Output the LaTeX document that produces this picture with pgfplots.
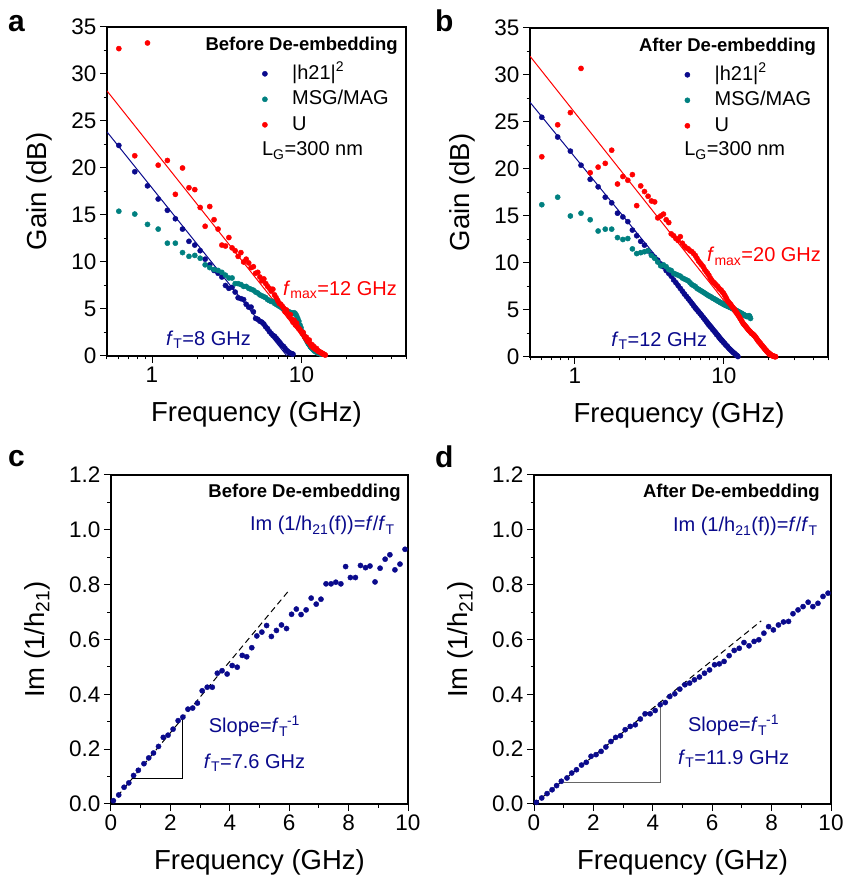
\documentclass[border=0pt]{standalone}
\usepackage{fontspec}
\setmainfont{Liberation Sans}
\usepackage{pgfplots}
\usepackage{pgfplotstable}
\pgfplotsset{compat=1.18}

\definecolor{navyb}{RGB}{10,10,140}
\definecolor{tealc}{RGB}{0,128,128}
\definecolor{redc}{RGB}{255,0,0}

\newcommand\tickfont{\fontsize{22.5}{27}\selectfont}
\newcommand\labfont{\fontsize{27.5}{33}\selectfont}
\newcommand\annfont{\fontsize{20}{24}\selectfont}
\newcommand\ttlfont{\fontsize{18.5}{22}\selectfont\bfseries}
\newcommand\letfont{\fontsize{30}{36}\selectfont\bfseries}

% gain before de-embedding: f (GHz), |h21|^2, MSG/MAG, U (dB)
\pgfplotstableread{
f h21 msg u
0.600 22.4 15.4 32.7
0.767 19.6 15.1 21.3
0.933 18.1 14.0 33.3
1.100 16.7 13.5 20.3
1.267 15.5 12.0 20.8
1.433 14.6 12.0 17.2
1.600 13.5 11.0 20.0
1.767 12.2 10.6 17.9
1.933 11.8 10.7 17.7
2.100 11.2 10.4 15.8
2.267 10.3 9.7 13.8
2.433 9.7 9.4 15.9
2.600 9.1 9.2 14.5
2.767 8.8 9.1 13.5
2.933 8.4 8.9 11.8
3.100 7.5 8.6 11.7
3.267 7.2 8.3 12.6
3.433 7.3 8.3 11.5
3.600 6.8 7.7 11.2
3.767 6.2 7.7 10.6
3.933 6.1 7.6 11.0
4.100 6.0 7.4 10.0
4.267 5.5 7.4 10.3
4.433 5.2 7.2 9.9
4.600 5.2 7.1 9.4
4.767 4.7 7.0 9.5
4.933 4.0 6.8 8.8
5.100 3.9 6.7 8.9
5.267 3.7 6.5 8.4
5.433 3.6 6.4 8.0
5.600 3.4 6.3 8.2
5.767 3.1 6.2 7.7
5.933 2.9 6.0 7.4
6.100 2.6 5.9 7.2
6.267 2.4 5.8 6.9
6.433 2.2 5.8 7.1
6.600 2.1 5.6 6.5
6.767 1.9 5.5 6.2
6.933 1.7 5.4 5.9
7.100 1.5 5.3 5.6
7.267 1.3 5.2 5.5
7.433 1.1 5.1 5.3
7.600 1.0 5.0 5.1
7.767 0.8 4.9 4.7
7.933 0.6 4.8 4.9
8.100 0.5 4.7 4.5
8.267 0.35 4.7 4.2
8.433 0.3 4.6 4.4
8.600 0.25 4.6 3.9
8.767 0.2 4.5 3.6
8.933 nan 4.6 3.8
9.100 nan 4.5 3.3
9.267 nan 4.3 3.5
9.433 nan 4.0 3.1
9.600 nan 3.7 2.9
9.767 nan 3.3 2.8
9.933 nan 3.0 2.6
10.100 nan 2.6 2.4
10.267 nan 2.4 2.5
10.433 nan 2.1 2.1
10.600 nan 1.9 1.9
10.767 nan 1.7 2.0
10.933 nan 1.5 1.6
11.100 nan 1.3 1.5
11.267 nan 1.2 1.7
11.433 nan 1.0 1.3
11.600 nan 0.9 1.1
11.767 nan 0.8 1.2
11.933 nan 0.7 0.9
12.100 nan 0.6 1.0
12.267 nan 0.5 0.8
12.433 nan 0.5 0.7
12.600 nan 0.4 0.8
12.767 nan 0.4 0.6
12.933 nan 0.3 0.5
13.100 nan 0.3 0.5
13.267 nan 0.25 0.4
13.433 nan 0.2 0.4
13.600 nan nan 0.3
13.767 nan nan 0.3
13.933 nan nan 0.2
14.100 nan nan 0.2
14.267 nan nan 0.15
14.433 nan nan 0.1
}\gainbefore

% gain after de-embedding
\pgfplotstableread{
f h21 msg u
0.600 25.5 16.2 21.3
0.767 23.4 17.0 24.7
0.933 21.9 15.0 26.0
1.100 20.4 15.3 30.7
1.267 18.9 14.6 19.6
1.433 18.1 13.4 20.2
1.600 17.0 13.6 20.6
1.767 16.4 13.6 22.0
1.933 15.3 12.7 18.4
2.100 14.9 12.5 19.2
2.267 14.4 12.6 18.8
2.433 13.5 11.5 19.4
2.600 12.9 11.0 16.1
2.767 12.3 11.1 18.2
2.933 11.9 11.2 17.6
3.100 11.3 11.3 17.1
3.267 10.9 10.8 16.6
3.433 10.6 10.5 16.5
3.600 10.3 10.1 14.8
3.767 9.9 9.7 15.0
3.933 9.6 9.8 15.2
4.100 9.2 9.6 14.6
4.267 8.9 9.3 14.3
4.433 8.6 9.2 13.1
4.600 8.2 8.9 12.9
4.767 7.9 8.8 12.6
4.933 7.6 8.7 12.4
5.100 7.3 8.6 12.8
5.267 7.0 8.4 12.1
5.433 6.7 8.3 11.8
5.600 6.45 8.2 11.6
5.767 6.2 8.1 11.5
5.933 5.95 7.9 11.3
6.100 5.7 7.7 11.2
6.267 5.45 7.6 11.0
6.433 5.2 7.5 10.8
6.600 5.0 7.3 10.5
6.767 4.8 7.2 10.2
6.933 4.6 7.1 10.0
7.100 4.4 7.0 9.8
7.267 4.2 6.9 9.6
7.433 4.0 6.8 9.3
7.600 3.8 6.7 9.1
7.767 3.6 6.6 8.9
7.933 3.4 6.5 8.7
8.100 3.25 6.45 8.4
8.267 3.1 6.35 8.2
8.433 2.9 6.25 8.0
8.600 2.75 6.2 7.9
8.767 2.6 6.1 7.75
8.933 2.4 6.05 7.6
9.100 2.3 5.95 7.5
9.267 2.1 5.9 7.3
9.433 1.95 5.8 7.2
9.600 1.8 5.75 7.1
9.767 1.7 5.7 6.9
9.933 1.55 5.6 6.8
10.100 1.45 5.55 6.6
10.267 1.3 5.5 6.4
10.433 1.2 5.45 6.2
10.600 1.1 5.4 5.95
10.767 0.95 5.35 5.85
10.933 0.85 5.3 5.7
11.100 0.75 5.25 5.6
11.267 0.65 5.2 5.45
11.433 0.55 5.15 5.3
11.600 0.45 5.1 5.2
11.767 0.4 5.05 5.05
11.933 0.3 5.0 4.95
12.100 0.2 4.95 4.8
12.267 0.15 4.9 4.65
12.433 0.05 4.85 4.5
12.600 nan 4.8 4.35
12.767 nan 4.75 4.2
12.933 nan 4.7 4.05
13.100 nan 4.65 3.9
13.267 nan 4.6 3.75
13.433 nan 4.55 3.6
13.600 nan 4.5 3.5
13.767 nan 4.45 3.4
13.933 nan 4.4 3.3
14.100 nan 4.35 3.2
14.267 nan 4.3 3.1
14.433 nan 4.3 3.0
14.600 nan 4.35 2.9
14.767 nan 4.4 2.8
14.933 nan 4.3 2.75
15.100 nan 4.1 2.65
15.267 nan nan 2.55
15.433 nan nan 2.5
15.600 nan nan 2.45
15.767 nan nan 2.4
15.933 nan nan 2.3
16.100 nan nan 2.25
16.267 nan nan 2.15
16.433 nan nan 2.05
16.600 nan nan 1.95
16.767 nan nan 1.85
16.933 nan nan 1.75
17.100 nan nan 1.65
17.267 nan nan 1.6
17.433 nan nan 1.5
17.600 nan nan 1.45
17.767 nan nan 1.35
17.933 nan nan 1.25
18.100 nan nan 1.2
18.267 nan nan 1.1
18.433 nan nan 1.05
18.600 nan nan 0.95
18.767 nan nan 0.9
18.933 nan nan 0.8
19.100 nan nan 0.75
19.267 nan nan 0.7
19.433 nan nan 0.6
19.600 nan nan 0.55
19.767 nan nan 0.5
19.933 nan nan 0.45
20.100 nan nan 0.4
20.267 nan nan 0.35
20.433 nan nan 0.3
20.600 nan nan 0.25
20.767 nan nan 0.2
20.933 nan nan 0.18
21.100 nan nan 0.15
21.267 nan nan 0.12
21.433 nan nan 0.1
21.600 nan nan 0.08
21.767 nan nan 0.06
21.933 nan nan 0.05
22.100 nan nan 0.04
22.267 nan nan 0.03
}\gainafter

% Im(1/h21) before de-embedding
\pgfplotstableread{
f im
0.08 0.012
0.26 0.033
0.44 0.061
0.60 0.077
0.76 0.104
0.92 0.123
1.11 0.147
1.27 0.168
1.43 0.186
1.60 0.210
1.76 0.243
1.92 0.251
2.09 0.273
2.26 0.304
2.42 0.317
2.59 0.346
2.75 0.350
2.91 0.368
3.07 0.413
3.24 0.426
3.41 0.426
3.58 0.477
3.74 0.486
3.91 0.474
4.08 0.505
4.25 0.499
4.42 0.542
4.57 0.537
4.74 0.570
4.91 0.613
5.08 0.627
5.24 0.651
5.40 0.611
5.57 0.633
5.74 0.653
5.91 0.640
6.08 0.692
6.24 0.711
6.40 0.691
6.57 0.708
6.74 0.751
6.91 0.729
7.07 0.747
7.24 0.803
7.41 0.803
7.57 0.809
7.74 0.803
7.90 0.866
8.06 0.826
8.23 0.826
8.40 0.870
8.57 0.862
8.72 0.868
8.89 0.810
9.06 0.860
9.23 0.893
9.39 0.909
9.56 0.854
9.73 0.875
9.90 0.929
}\imbefore

% Im(1/h21) after de-embedding
\pgfplotstableread{
f im
0.08 0.006
0.26 0.022
0.44 0.038
0.61 0.052
0.76 0.067
0.92 0.083
1.11 0.095
1.27 0.113
1.43 0.125
1.60 0.142
1.76 0.152
1.92 0.174
2.09 0.180
2.26 0.192
2.42 0.208
2.59 0.228
2.75 0.243
2.91 0.249
3.07 0.271
3.24 0.283
3.41 0.289
3.58 0.310
3.74 0.329
3.91 0.329
4.08 0.341
4.25 0.362
4.42 0.370
4.57 0.392
4.74 0.402
4.91 0.419
5.08 0.435
5.24 0.441
5.40 0.453
5.57 0.463
5.74 0.477
5.91 0.489
6.08 0.508
6.24 0.511
6.40 0.520
6.57 0.541
6.74 0.560
6.91 0.568
7.07 0.589
7.24 0.577
7.41 0.593
7.57 0.599
7.74 0.623
7.90 0.647
8.06 0.635
8.23 0.653
8.40 0.664
8.57 0.666
8.72 0.694
8.89 0.708
9.06 0.720
9.23 0.736
9.39 0.720
9.56 0.732
9.73 0.757
9.90 0.769
}\imafter

\pgfplotsset{
  panel/.style={
    scale only axis, width=298pt, height=329pt,
    tick align=outside, tick pos=left,
    major tick length=7pt, minor tick length=3.5pt,
    axis line style={line width=1.1pt},
    tick style={line width=1pt, black},
    ticklabel style={font=\tickfont},
    label style={font=\labfont},
    xlabel shift=12pt, ylabel shift=12pt,
    /pgf/number format/assume math mode=true,
    xlabel={Frequency (GHz)},
  },
  gain/.style={
    panel, xmin=0.5, xmax=50, ymin=0, ymax=35,
    xtick={1,10}, xticklabels={1,10},
    minor xtick={0.5,0.6,0.7,0.8,0.9,2,3,4,5,6,7,8,9,20,30,40,50},
    ytick={0,5,...,35}, minor y tick num=1,
    ylabel={Gain (dB)},
    legend cell align=left,
    legend image code/.code={\path (0pt,0pt) (34pt,0pt); \draw[mark repeat=2,mark phase=2,##1] plot coordinates {(0pt,0pt)(8pt,0pt)(28pt,0pt)};},
    legend style={draw=none, fill=none, font=\annfont, inner sep=0pt,
      row sep=4pt, nodes={inner sep=1pt, text height=15pt, text depth=4.5pt},
      at={(rel axis cs:0.50,0.891)}, anchor=north west},
  },
  imag/.style={
    panel, xmin=0, xmax=10, ymin=0, ymax=1.2,
    xtick={0,2,...,10}, minor x tick num=1,
    ytick={0,0.2,...,1.2}, minor y tick num=1,
    yticklabel style={/pgf/number format/.cd, fixed, fixed zerofill, precision=1},
    ylabel={Im (1/h\textsubscript{21})},
  },
  pts/.style={only marks, mark=*, mark size=2.6pt, mark options={draw=none, fill=#1}, color=#1},
}

\begin{document}
\begin{tikzpicture}
\path[use as bounding box] (0pt,0pt) rectangle (846pt,883pt);

% a
\begin{axis}[xmode=log, gain, at={(107pt,527pt)}, anchor=south west, width=299pt]
\addplot[pts=navyb] table[x=f, y=h21] {\gainbefore};
\addlegendentry{|h21|\textsuperscript{2}}
\addplot[pts=tealc] table[x=f, y=msg] {\gainbefore};
\addlegendentry{MSG/MAG}
\addplot[pts=redc] table[x=f, y=u] {\gainbefore};
\addlegendentry{U}
\addplot[forget plot, navyb, line width=1pt] coordinates {(0.5,23.84) (8.0,0)};
\addplot[forget plot, redc, line width=1pt] coordinates {(0.5,28.2) (12.85,0)};
\node[anchor=east, inner sep=0pt, font=\ttlfont] at (rel axis cs:0.973,0.942) {Before De-embedding};
\node[anchor=base west, inner sep=0pt, font=\annfont] at (rel axis cs:0.518,0.608) {L\textsubscript{G}=300 nm};
\node[anchor=base east, inner sep=0pt, font=\annfont, text=redc] at (rel axis cs:0.97,0.185) {\textit{f}\textsubscript{max}=12 GHz};
\node[anchor=base west, inner sep=0pt, font=\annfont, text=navyb] at (rel axis cs:0.197,0.033) {\textit{f}\textsubscript{T}=8 GHz};
\end{axis}

% b
\begin{axis}[xmode=log, gain, at={(530pt,526pt)}, anchor=south west]
\addplot[pts=navyb] table[x=f, y=h21] {\gainafter};
\addlegendentry{|h21|\textsuperscript{2}}
\addplot[pts=tealc] table[x=f, y=msg] {\gainafter};
\addlegendentry{MSG/MAG}
\addplot[pts=redc] table[x=f, y=u] {\gainafter};
\addlegendentry{U}
\addplot[forget plot, navyb, line width=1pt] coordinates {(0.5,27.1) (12.5,0)};
\addplot[forget plot, redc, line width=1pt] coordinates {(0.5,32.0) (20,0)};
\node[anchor=east, inner sep=0pt, font=\ttlfont] at (rel axis cs:0.96,0.942) {After De-embedding};
\node[anchor=base west, inner sep=0pt, font=\annfont] at (rel axis cs:0.517,0.611) {L\textsubscript{G}=300 nm};
\node[anchor=base east, inner sep=0pt, font=\annfont, text=redc] at (rel axis cs:0.977,0.289) {\textit{f}\textsubscript{max}=20 GHz};
\node[anchor=base west, inner sep=0pt, font=\annfont, text=navyb] at (rel axis cs:0.272,0.033) {\textit{f}\textsubscript{T}=12 GHz};
\end{axis}

% c
\begin{axis}[imag, at={(111pt,79pt)}, anchor=south west, width=297pt]
\addplot[black, line width=0.9pt] coordinates {(0.72,0.092) (2.42,0.092) (2.42,0.318)};
\addplot[black, line width=1pt, dash pattern=on 6pt off 4pt] coordinates {(0,0) (6.0,0.78)};
\addplot[pts=navyb] table[x=f, y=im] {\imbefore};
\node[anchor=east, inner sep=0pt, font=\ttlfont] at (rel axis cs:0.976,0.945) {Before De-embedding};
\node[anchor=base east, inner sep=0pt, font=\annfont, text=navyb] at (rel axis cs:0.956,0.83) {Im (1/h\textsubscript{21}(f))=\textit{f}/\textit{f}\textsubscript{T}};
\node[anchor=base, inner sep=0pt, font=\annfont, text=navyb] at (rel axis cs:0.483,0.216) {Slope=\textit{f}\textsubscript{T}\kern-1pt\textsuperscript{-1}};
\node[anchor=base, inner sep=0pt, font=\annfont, text=navyb] at (rel axis cs:0.483,0.109) {\textit{f}\textsubscript{T}=7.6 GHz};
\end{axis}

% d
\begin{axis}[imag, at={(534pt,79pt)}, anchor=south west, width=297pt]
\addplot[black!60, line width=0.9pt] coordinates {(1.0,0.079) (4.25,0.079) (4.25,0.374)};
\addplot[black, line width=1pt, dash pattern=on 6pt off 4pt] coordinates {(0,0) (7.65,0.668)};
\addplot[pts=navyb] table[x=f, y=im] {\imafter};
\node[anchor=east, inner sep=0pt, font=\ttlfont] at (rel axis cs:0.963,0.945) {After De-embedding};
\node[anchor=base east, inner sep=0pt, font=\annfont, text=navyb] at (rel axis cs:0.956,0.827) {Im (1/h\textsubscript{21}(f))=\textit{f}/\textit{f}\textsubscript{T}};
\node[anchor=base, inner sep=0pt, font=\annfont, text=navyb] at (rel axis cs:0.672,0.219) {Slope=\textit{f}\textsubscript{T}\kern-1pt\textsuperscript{-1}};
\node[anchor=base, inner sep=0pt, font=\annfont, text=navyb] at (rel axis cs:0.672,0.119) {\textit{f}\textsubscript{T}=11.9 GHz};
\end{axis}

\node[anchor=base west, inner sep=0pt, font=\letfont] at (8pt,851pt) {a};
\node[anchor=base west, inner sep=0pt, font=\letfont] at (435pt,851pt) {b};
\node[anchor=base west, inner sep=0pt, font=\letfont] at (8pt,416pt) {c};
\node[anchor=base west, inner sep=0pt, font=\letfont] at (435pt,415pt) {d};
\end{tikzpicture}
\end{document}
